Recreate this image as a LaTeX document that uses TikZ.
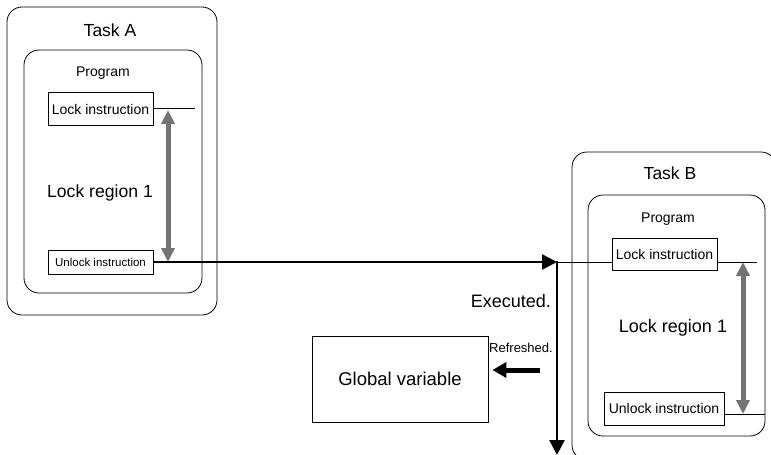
\documentclass[tikz,border=0pt]{standalone}
\usepackage{fontspec}
\setmainfont{Liberation Sans}
\usepackage{xcolor}
\usetikzlibrary{arrows.meta}
\newcommand{\fsz}[1]{\fontsize{#1}{#1}\selectfont}

\begin{document}
\begin{tikzpicture}[
        x=1pt, y=-1pt,
        every node/.style={font=\normalsize, inner sep=0pt},
        task/.style={draw, rectangle, rounded corners=15pt, line width=0.8pt},
        prog/.style={draw, rectangle, rounded corners=15pt, line width=0.8pt},
        instr/.style={draw, rectangle, line width=0.8pt, minimum width=105pt, minimum height=33pt},
        glob/.style={draw, rectangle, line width=0.8pt, minimum width=176pt, minimum height=86pt, font=\fsz{18.5pt}},
        lockspan/.style={draw=black!55, line width=5pt, {Triangle[width=13pt,length=14pt]}-{Triangle[width=13pt,length=14pt]}},
        flow/.style={line width=2.5pt, -{Triangle[width=15pt,length=15pt]}},
        fat/.style={line width=5pt, -{Triangle[width=15pt,length=14pt]}}
    ]
        \useasboundingbox (0,0) rectangle (771,455);
        \clip (0,0) rectangle (771,455);

        % Nodes
        \node (taskA) [task, minimum width=210pt, minimum height=308pt] at (112,161) {};
        \node (taskA_title) [font=\fsz{17.5pt}] at (110,30) {Task A};
        \node (progA) [prog, minimum width=178pt, minimum height=243pt] at (113,171.5) {};
        \node (progA_title) [font=\fsz{14pt}] at (103,73) {Program};
        \node (lockA) [instr, font=\fsz{14pt}] at (100.5,109) {Lock instruction};
        \node (unlockA) [instr, minimum height=24pt, font=\fsz{11.5pt}] at (100.5,262) {Unlock instruction};
        \node (regionA) [font=\fsz{17.6pt}] at (100,193) {Lock region 1};

        \node (taskB) [task, minimum width=204pt, minimum height=308pt] at (674,306) {};
        \node (taskB_title) [font=\fsz{17.5pt}] at (670,173) {Task B};
        \node (progB) [prog, minimum width=177pt, minimum height=241pt] at (676.5,315.5) {};
        \node (progB_title) [font=\fsz{14pt}] at (668,219) {Program};
        \node (lockB) [instr, minimum height=32pt, font=\fsz{14pt}] at (664.5,254) {Lock instruction};
        \node (unlockB) [instr, minimum width=120pt, font=\fsz{14pt}] at (664,408.5) {Unlock instruction};
        \node (regionB) [font=\fsz{18pt}] at (673,328) {Lock region 1};

        \node (gvar) [glob] at (400,379) {Global variable};
        \node (executed) [anchor=east, font=\fsz{18pt}] at (551,301) {Executed.};
        \node (refreshed) [anchor=west, font=\fsz{13pt}] at (489,348) {Refreshed.};

        \coordinate (exec) at (557,262);
        \coordinate (execEnd) at (557,455);
        \coordinate (refresh) at (540,370);
        \coordinate (lockA_end) at (195,108);
        \coordinate (lockB_end) at (757,262);
        \coordinate (unlockB_end) at (765,414);

        % Lines
        \draw [line width=0.8pt] (lockA.east |- lockA_end) -- (lockA_end);
        \draw [line width=0.8pt] (exec) -- (exec -| lockB.west);
        \draw [line width=0.8pt] (lockB.east |- lockB_end) -- (lockB_end);
        \draw [line width=0.8pt] (unlockB.east |- unlockB_end) -- (unlockB_end);

        % Arrows
        \draw [lockspan] (168,110) -- (unlockA.east -| 168,0);
        \draw [lockspan] (lockB_end -| 743,0) -- (unlockB_end -| 743,0);
        \draw [flow] (unlockA.east) -- (exec);
        \draw [flow] ([yshift=1pt]exec) -- (execEnd);
        \draw [fat] (refresh) -- ([xshift=4pt]gvar.east |- refresh);
    \end{tikzpicture}
\end{document}
